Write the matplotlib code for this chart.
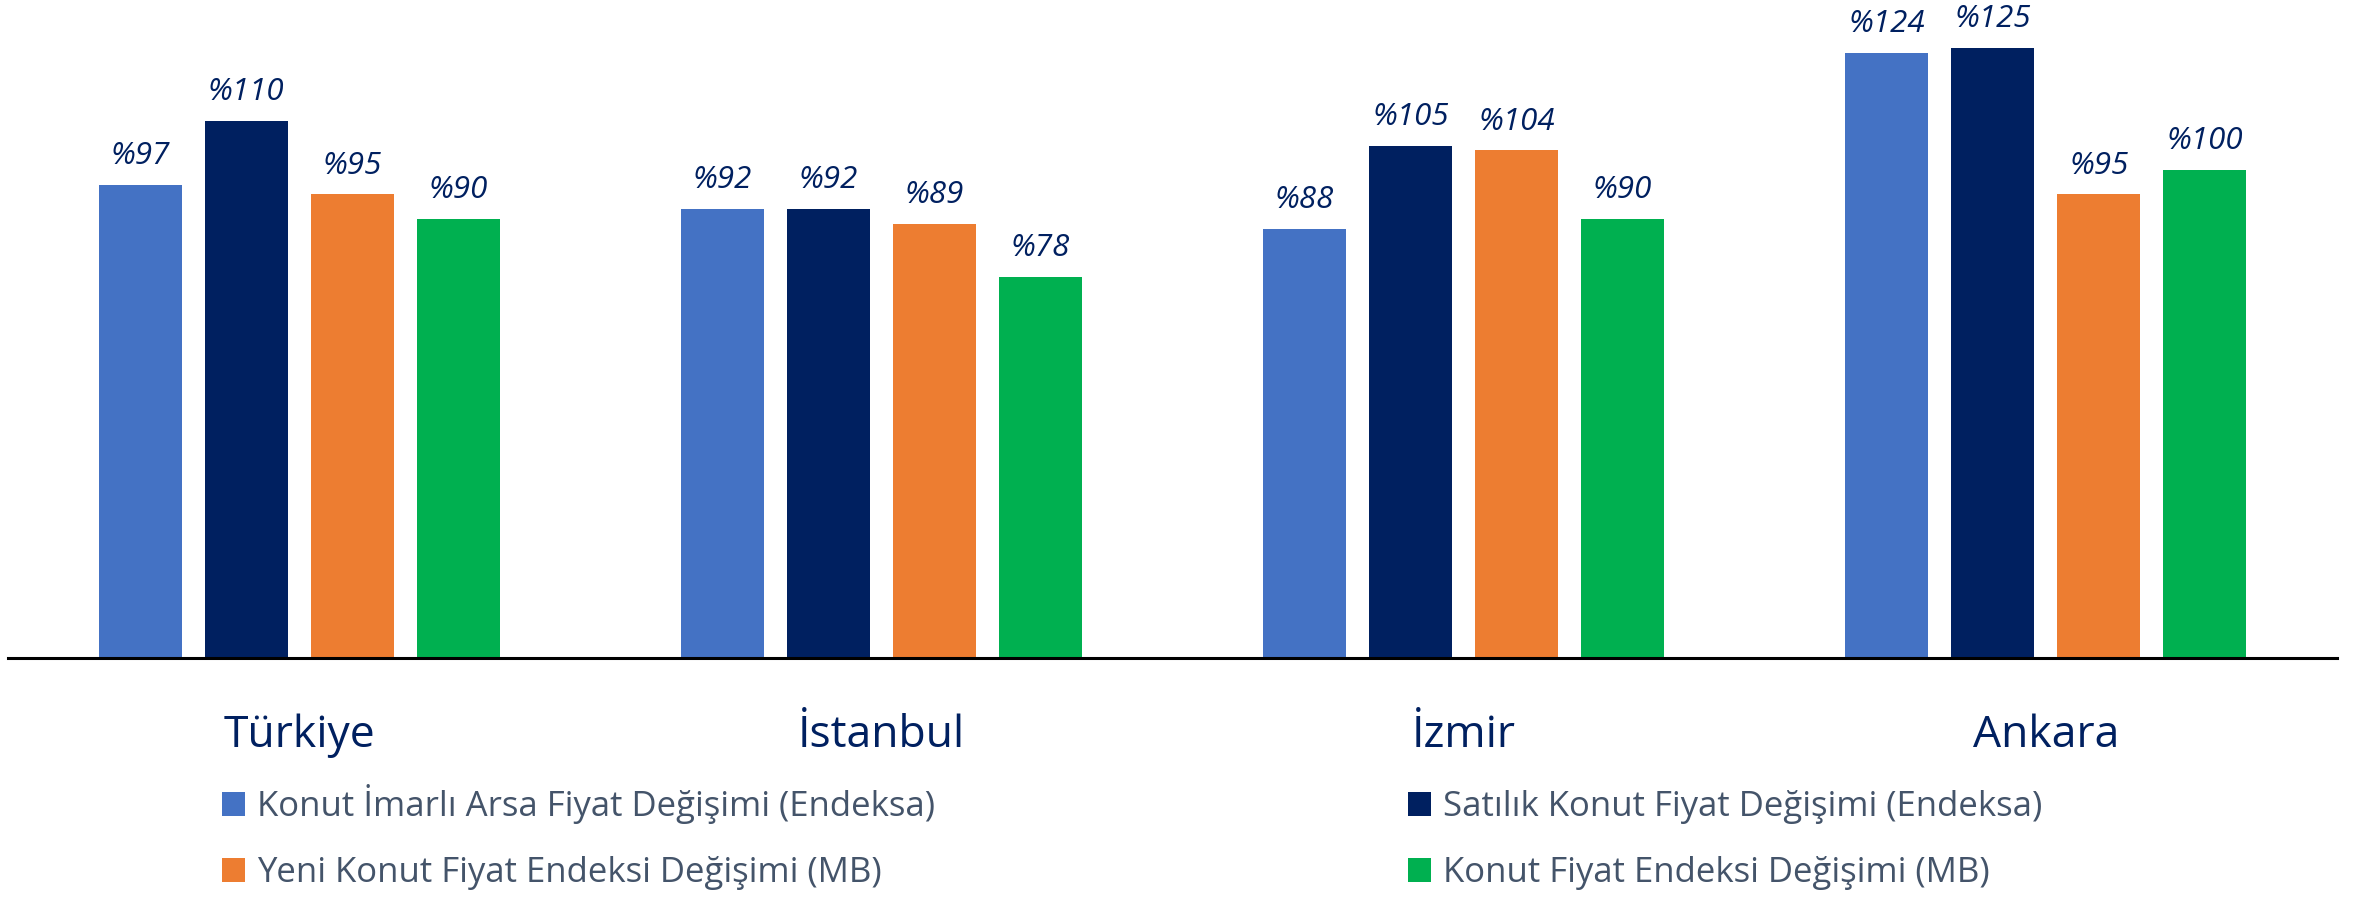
import matplotlib
matplotlib.use("Agg")
import matplotlib.pyplot as plt
import numpy as np

plt.rcParams['font.family'] = ['Open Sans', 'DejaVu Sans']

categories = ["Türkiye", "İstanbul", "İzmir", "Ankara"]
series_names = [
    "Konut İmarlı Arsa Fiyat Değişimi (Endeksa)",
    "Satılık Konut Fiyat Değişimi (Endeksa)",
    "Yeni Konut Fiyat Endeksi Değişimi (MB)",
    "Konut Fiyat Endeksi Değişimi (MB)",
]
arsa_endeksa = [97, 92, 88, 124]
satilik_endeksa = [110, 92, 105, 125]
yeni_konut_mb = [95, 89, 104, 95]
konut_mb = [90, 78, 90, 100]
series_values = [arsa_endeksa, satilik_endeksa, yeni_konut_mb, konut_mb]
colors = ["#4472C4", "#002060", "#ED7D31", "#00B050"]

W, H = 2356, 899
fig = plt.figure(figsize=(W / 100, H / 100), dpi=100)
base_px = 658
px_per_unit = 4.88
ax = fig.add_axes([8 / W, (H - base_px) / H, 2329 / W, base_px / H])
ax.set_xlim(-0.5, 3.5)
ax.set_ylim(0, base_px / px_per_unit)

x = np.arange(len(categories))
step = 0.182
width = 0.1426
containers = []
for i, (vals, col, name) in enumerate(zip(series_values, colors, series_names)):
    bc = ax.bar(x + (i - 1.5) * step, vals, width, color=col, label=name)
    containers.append(bc)
    ax.bar_label(bc, labels=[f"%{v}" for v in vals], padding=10,
                 fontsize=22.5, style='italic', color="#002060")

for s in ["top", "left", "right"]:
    ax.spines[s].set_visible(False)
ax.spines["bottom"].set_color("black")
ax.spines["bottom"].set_linewidth(2.2)
ax.set_xticks([])
ax.set_yticks([])
ax.patch.set_alpha(0)

for xi, cat in zip(x, categories):
    ax.text(xi, -18.2, cat, ha='center', va='baseline', fontsize=32,
            color="#002060", clip_on=False)

order = [0, 2, 1, 3]
leg = fig.legend([containers[k] for k in order], [series_names[k] for k in order],
                 ncol=2, loc='upper left', bbox_to_anchor=(222 / W, 1 - 784 / H),
                 frameon=False, fontsize=25, handlelength=0.67, handleheight=0.67,
                 handletextpad=0.35, columnspacing=13.6, labelspacing=0.92,
                 borderpad=0, borderaxespad=0)
for t in leg.get_texts():
    t.set_color("#44546A")

fig.savefig("out.png", dpi=100)
